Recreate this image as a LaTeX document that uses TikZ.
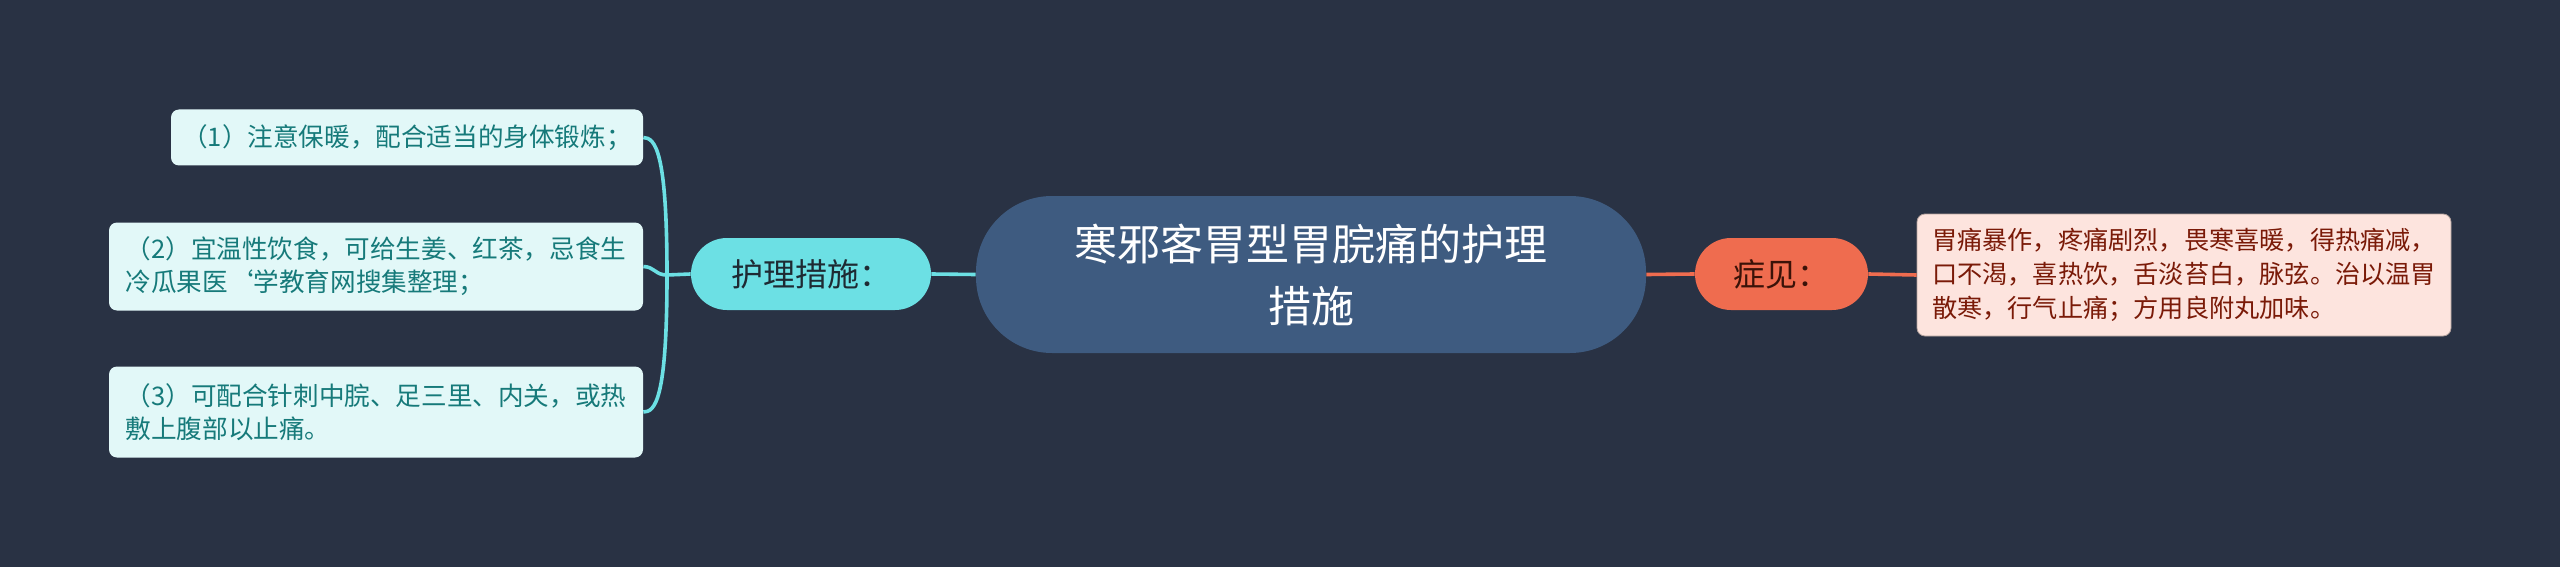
\documentclass[tikz,border=0pt]{standalone}
\usepackage{fontspec}
\setmainfont{Noto Sans CJK SC}
\definecolor{bg}{HTML}{293244}
\definecolor{centralfill}{HTML}{3E5B80}
\definecolor{cyanfill}{HTML}{6CE0E4}
\definecolor{orangefill}{HTML}{EF6C4F}
\definecolor{leafL}{HTML}{E2F8F8}
\definecolor{leafLtext}{HTML}{167A7A}
\definecolor{leafR}{HTML}{FDE4DE}
\definecolor{leafRtext}{HTML}{7A1A08}
\definecolor{darktext}{HTML}{1E2A33}
\definecolor{darkred}{HTML}{3A1208}
\tikzset{
  central/.style={fill=centralfill, rounded corners=38pt, minimum width=335pt, minimum height=78.5pt, inner sep=0pt, text=white, font=\fontsize{21.5pt}{31pt}\selectfont, align=center},
  branchL/.style={fill=cyanfill, rounded corners=18pt, minimum width=120pt, minimum height=36pt, inner sep=0pt, text=darktext, font=\fontsize{16pt}{20pt}\selectfont},
  branchR/.style={fill=orangefill, rounded corners=18pt, minimum width=86.5pt, minimum height=36pt, inner sep=0pt, text=darkred, font=\fontsize{16pt}{20pt}\selectfont},
  leafl/.style={fill=leafL, rounded corners=4pt, inner sep=0pt, text=leafLtext, align=left, font=\fontsize{12.8pt}{16.5pt}\selectfont},
  leafr/.style={fill=leafR, draw=leafR!70!black, line width=0.4pt, rounded corners=4pt, inner sep=0pt, text=leafRtext, align=left, font=\fontsize{12.6pt}{17pt}\selectfont},
  cyanline/.style={draw=cyanfill, line width=1.8pt},
  orangeline/.style={draw=orangefill, line width=1.8pt}
}
\begin{document}
\begin{tikzpicture}[x=0.5pt,y=-0.5pt]
\useasboundingbox (0,0) rectangle (2560,567);
\fill[bg] (0,0) rectangle (2560,567);

\node[central] (c) at (1311,274.5) {寒邪客胃型胃脘痛的护理\\措施};
\node[branchL] (hl) at (811,274) {护理措施：};
\node[branchR] (zj) at (1781.5,274) {症见：};
\node[leafr, minimum width=267pt, minimum height=61pt] (r1) at (2184,275) {胃痛暴作，疼痛剧烈，畏寒喜暖，得热痛减，\\口不渴，喜热饮，舌淡苔白，脉弦。治以温胃\\散寒，行气止痛；方用良附丸加味。};
\node[leafl, minimum width=236pt, minimum height=28pt] (l1) at (407,137.5) {（1）注意保暖，配合适当的身体锻炼；};
\node[leafl, minimum width=267pt, minimum height=44pt] (l2) at (376,266.5) {（2）宜温性饮食，可给生姜、红茶，忌食生\\冷瓜果医\symbol{96}学教育网搜集整理；};
\node[leafl, minimum width=267pt, minimum height=45.5pt] (l3) at (376,412) {（3）可配合针刺中脘、足三里、内关，或热\\敷上腹部以止痛。};

\coordinate (hub) at (667,275);
\draw[cyanline] (c.west) -- (hl.east);
\draw[cyanline] (hl.west) -- (hub);
\draw[cyanline] (hub) .. controls (667,150) and (655,138) .. (l1.east);
\draw[cyanline] (hub) .. controls (655,275) and (655,267) .. (l2.east);
\draw[cyanline] (hub) .. controls (667,400) and (655,412) .. (l3.east);

\draw[orangeline] (c.east) -- (zj.west);
\draw[orangeline] (zj.east) -- (r1.west);
\end{tikzpicture}
\end{document}
